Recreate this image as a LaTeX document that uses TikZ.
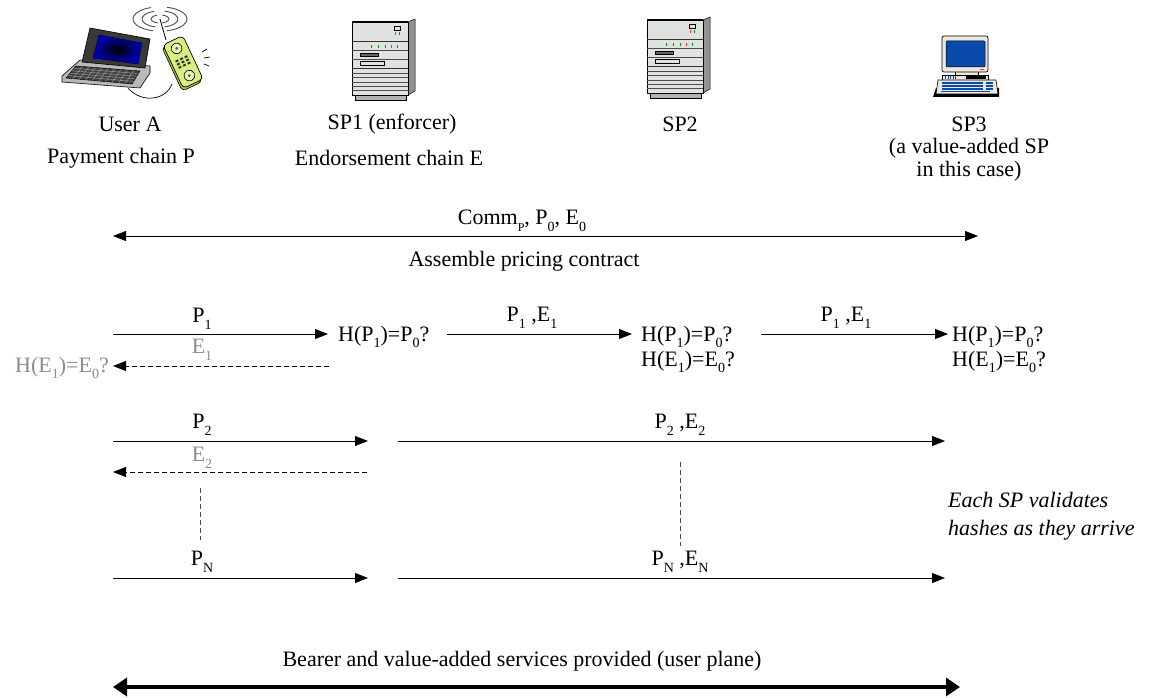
\documentclass[tikz,border=0pt]{standalone}
\usepackage{fontspec}
\setmainfont{Liberation Serif}
\usetikzlibrary{arrows.meta,calc}
\newcommand\sub[1]{\raisebox{-0.3em}{\fontsize{14}{14}\selectfont #1}}
\newcommand\ssub[1]{\raisebox{-0.3em}{\fontsize{12}{12}\selectfont #1}}
\definecolor{srvface}{HTML}{DFE3DF}
\definecolor{srvside}{HTML}{8F9391}
\definecolor{hashgrey}{HTML}{8C8C8C}
\definecolor{lime}{HTML}{D6EF80}
\definecolor{limedark}{HTML}{A8C850}
\definecolor{pcbeige}{HTML}{ECE8DC}
\definecolor{pcblue}{HTML}{0A4AAA}
\tikzset{
  lbl/.style={font=\fontsize{22}{23}\selectfont, inner sep=0pt},
  note/.style={font=\fontsize{22}{28}\selectfont\itshape, inner sep=0pt, align=left},
  msg/.style={draw=black, line width=0.9pt, -{Triangle[length=13pt,width=10pt]}},
  reply/.style={draw=black, line width=0.9pt, dash pattern=on 5pt off 3pt, -{Triangle[length=13pt,width=10pt]}},
  both/.style={draw=black, line width=0.9pt, {Triangle[length=13pt,width=10pt]}-{Triangle[length=13pt,width=10pt]}},
  bearer/.style={draw=black, line width=4pt, {Triangle[length=14pt,width=18pt]}-{Triangle[length=14pt,width=18pt]}},
  ellipsis/.style={draw=black!70, line width=0.9pt, dash pattern=on 5pt off 3pt},
  server/.pic={
    % cabinet body, side panel and plinth
    \filldraw[fill=srvside, draw=black, line width=0.5pt] (56,0) -- (63,-3) -- (63,69) -- (56,73) -- cycle;
    \filldraw[fill=gray!60, draw=black, line width=0.5pt] (3,73) rectangle (54,78);
    \filldraw[fill=srvface, draw=black, line width=0.6pt] (0,0) rectangle (56,73);
    \draw[black, line width=1.2pt] (0,0) -- (56,0);
    % front panel bands
    \draw[black!80, line width=1pt] (0,20) -- (56,20) (0,47) -- (56,47);
    \draw[black!70, line width=0.6pt] (0,28) -- (56,28) (0,37) -- (56,37) (0,51) -- (56,51)
       (0,55) -- (56,55) (0,60) -- (56,60) (0,64) -- (56,64) (0,68) -- (56,68);
    % status panel
    \draw[black, line width=0.6pt] (42,4) rectangle (48,8);
    \fill[red!80] (42.5,10) rectangle (43.5,13);
    \fill[green!60!black] (46.5,10) rectangle (47.5,13);
    \foreach \x/\c in {19/green!60!black,26/green!60!black,33/green!60!black,39/red!80,45/green!60!black}
      \fill[\c] (\x,23) rectangle (\x+1,26);
    % drive slots
    \filldraw[fill=black!60, draw=black, line width=0.5pt] (8,31) rectangle (26,34);
    \filldraw[fill=srvface, draw=black, line width=0.6pt] (8,39) rectangle (32,43);
  }
}
\begin{document}
\begin{tikzpicture}[x=1pt,y=-1pt]
\useasboundingbox (0,0) rectangle (1151,698);

% ---------- user terminal: laptop with radio handset ----------
\begin{scope}
  % laptop base and keyboard
  \filldraw[fill=gray!55, draw=black, line width=0.6pt]
    (80,60) -- (150,66) -- (150,73) -- (140,88) -- (62,82) -- (62,76) -- cycle;
  \filldraw[fill=black!75, draw=black, line width=0.5pt]
    (76,66) -- (140,71) -- (132,84) -- (66,78) -- cycle;
  \foreach \t in {0.2,0.4,0.6,0.8}
    \draw[gray!70, line width=0.4pt] ($(76,66)!\t!(66,78)$) -- ($(140,71)!\t!(132,84)$);
  \foreach \t in {0.1,0.2,...,0.9}
    \draw[gray!70, line width=0.4pt] ($(76,66)!\t!(140,71)$) -- ($(66,78)!\t!(132,84)$);
  % lid and display
  \filldraw[fill=gray!45!black, draw=black, line width=0.6pt]
    (90,28) -- (150,39) -- (145,68) -- (82,62) -- cycle;
  \shade[inner color=black, outer color=blue!75!black]
    (99,35) -- (142,43) -- (138,64) -- (93,58) -- cycle;
  \draw[black, line width=0.4pt] (99,35) -- (142,43) -- (138,64) -- (93,58) -- cycle;
  % handset cable
  \draw[black, line width=0.7pt] (128,88) .. controls (142,104) and (166,100) .. (172,84);
  % radio waves above the antenna
  \foreach \r in {9,18,27} {
    \draw[black!70, line width=0.9pt] (160,19) ++(105:{\r} and {\r*0.45}) arc[start angle=105, end angle=250, x radius=\r, y radius=\r*0.45];
    \draw[black!70, line width=0.9pt] (160,19) ++(-75:{\r} and {\r*0.45}) arc[start angle=-75, end angle=75, x radius=\r, y radius=\r*0.45];
  }
  \draw[black, line width=0.8pt] (160,19) -- (166,40);
  % handset body
  \begin{scope}[shift={(183,62)}, rotate=25]
    \filldraw[fill=limedark, draw=black, line width=0.6pt, rounded corners=4pt] (-13,-22) rectangle (9,26);
    \filldraw[fill=lime, draw=black, line width=0.7pt, rounded corners=4pt] (-11,-24) rectangle (11,24);
    \filldraw[fill=lime!60!white, draw=black, line width=0.6pt] (0,-15) circle (5.5);
    \fill[black!70] (0,-15) circle (1.5);
    \filldraw[fill=lime!60!white, draw=black, line width=0.6pt] (0,15) circle (5.5);
    \fill[black!70] (0,15) circle (1.5);
    \foreach \i in {-1,0,1} \foreach \j in {-1,0,1}
      \fill[black!80] (\i*5-1.5,\j*3.5-1) rectangle (\i*5+1.5,\j*3.5+1);
  \end{scope}
  % ringing marks
  \draw[black, line width=0.7pt] (202,52) -- (207,49) (204,58) -- (210,57) (204,64) -- (209,66);
\end{scope}

% ---------- SP1 and SP2 servers ----------
\pic at (352,22) {server};
\pic at (647,20) {server};

% ---------- SP3: desktop PC ----------
\begin{scope}
  \fill[black] (936,88) -- (999,88) -- (999,97) -- (933,97) -- cycle;
  \filldraw[fill=pcbeige, draw=black, line width=0.6pt] (942,75) rectangle (988,80);
  \filldraw[fill=pcbeige, draw=black, line width=0.6pt] (955,71) rectangle (978,75);
  \filldraw[fill=pcbeige, draw=black, line width=0.7pt, rounded corners=2pt] (942,36) rectangle (988,72);
  \filldraw[fill=pcblue, draw=black, line width=0.5pt, rounded corners=1pt] (946,41) rectangle (985,67);
  \fill[red!80] (980,69) rectangle (984,70.5);
  \fill[black] (966,76) rectangle (986,79);
  \foreach \x in {945,947.5,...,955} \fill[pcblue] (\x,76) rectangle (\x+1,79);
  \filldraw[fill=pcbeige, draw=black, line width=0.6pt] (938,80) -- (996,80) -- (998,94) -- (936,94) -- cycle;
  \foreach \y in {83,86,89} \draw[pcblue, line width=1.6pt] (942,\y) -- (983,\y);
  \foreach \y in {83,86,89} \draw[pcblue, line width=1.6pt] (986,\y) -- (993,\y);
  \draw[pcblue, line width=0.5pt] (941,91.5) -- (990,91.5);
\end{scope}

% ---------- party labels ----------
\node[lbl] (userA) at (130,124) {User A};
\node[lbl] (sp1) at (392,124) {SP1 (enforcer)};
\node[lbl] (sp2) at (680,124) {SP2};
\node[lbl] (sp3) at (969,124) {SP3};
\node[lbl] (chainP) at (121,158) {Payment chain P};
\node[lbl] (chainE) at (389,158) {Endorsement chain E};
\node[lbl, align=center] (sp3note) at (969,160) {(a value-added SP\\in this case)};

% ---------- contract assembly ----------
\coordinate (cL) at (113,236);
\coordinate (cR) at (978,236);
\draw[both] (cL) -- (cR);
\node[lbl] (commit) at (522,221) {Comm\ssub{P}, P\sub{0}, E\sub{0}};
\node[lbl] (assemble) at (524,261) {Assemble pricing contract};

% ---------- first payment round ----------
\node[lbl, anchor=west] (h1) at (338,337) {H(P\sub{1})=P\sub{0}?};
\node[lbl, anchor=west] (h2p) at (641,337) {H(P\sub{1})=P\sub{0}?};
\node[lbl, anchor=west] (h2e) at (641,362) {H(E\sub{1})=E\sub{0}?};
\node[lbl, anchor=west] (h3p) at (952,337) {H(P\sub{1})=P\sub{0}?};
\node[lbl, anchor=west] (h3e) at (952,362) {H(E\sub{1})=E\sub{0}?};
\node[lbl, anchor=east, text=hashgrey] (hE) at (109,368) {H(E\sub{1})=E\sub{0}?};
\coordinate (r1a) at (113,334);
\coordinate (r1b) at (328,334);
\coordinate (r1c) at (329,366);
\coordinate (r1d) at (113,366);
\coordinate (r1e) at (447,334);
\coordinate (r1f) at (632,334);
\coordinate (r1g) at (761,334);
\coordinate (r1h) at (948,334);

\draw[msg] (r1a) -- (r1b);
\node[lbl] (p1) at (202,319) {P\sub{1}};
\draw[reply] (r1c) -- (r1d);
\node[lbl, text=hashgrey] (e1) at (202,350) {E\sub{1}};
\draw[msg] (r1e) -- (r1f);
\node[lbl] (pe1a) at (532,318) {P\sub{1} ,E\sub{1}};
\draw[msg] (r1g) -- (r1h);
\node[lbl] (pe1b) at (846,318) {P\sub{1} ,E\sub{1}};

% ---------- second payment round ----------
\coordinate (r2a) at (113,441);
\coordinate (r2b) at (368,441);
\coordinate (r2c) at (398,441);
\coordinate (r2d) at (945,441);
\coordinate (r2e) at (367,472);
\coordinate (r2f) at (113,472);
\draw[msg] (r2a) -- (r2b);
\node[lbl] (p2) at (202,425) {P\sub{2}};
\draw[msg] (r2c) -- (r2d);
\node[lbl] (pe2) at (680,425) {P\sub{2} ,E\sub{2}};
\draw[reply] (r2e) -- (r2f);
\node[lbl, text=hashgrey] (e2) at (202,458) {E\sub{2}};

% ---------- continuation to round N ----------
\coordinate (v1a) at (200,488);
\coordinate (v1b) at (200,540);
\coordinate (v2a) at (680,462);
\coordinate (v2b) at (680,546);
\draw[ellipsis] (v1a) -- (v1b);
\draw[ellipsis] (v2a) -- (v2b);

\coordinate (rNa) at (113,578);
\coordinate (rNb) at (368,578);
\coordinate (rNc) at (398,578);
\coordinate (rNd) at (945,578);
\draw[msg] (rNa) -- (rNb);
\node[lbl] (pN) at (202,562) {P\sub{N}};
\draw[msg] (rNc) -- (rNd);
\node[lbl] (peN) at (680,562) {P\sub{N} ,E\sub{N}};

\node[note, anchor=west] (validate) at (948,516) {Each SP validates\\hashes as they arrive};

% ---------- service delivery ----------
\coordinate (bL) at (113,687);
\coordinate (bR) at (960,687);
\draw[bearer] (bL) -- (bR);
\node[lbl] (bearerlbl) at (522,661) {Bearer and value-added services provided (user plane)};
\end{tikzpicture}
\end{document}
